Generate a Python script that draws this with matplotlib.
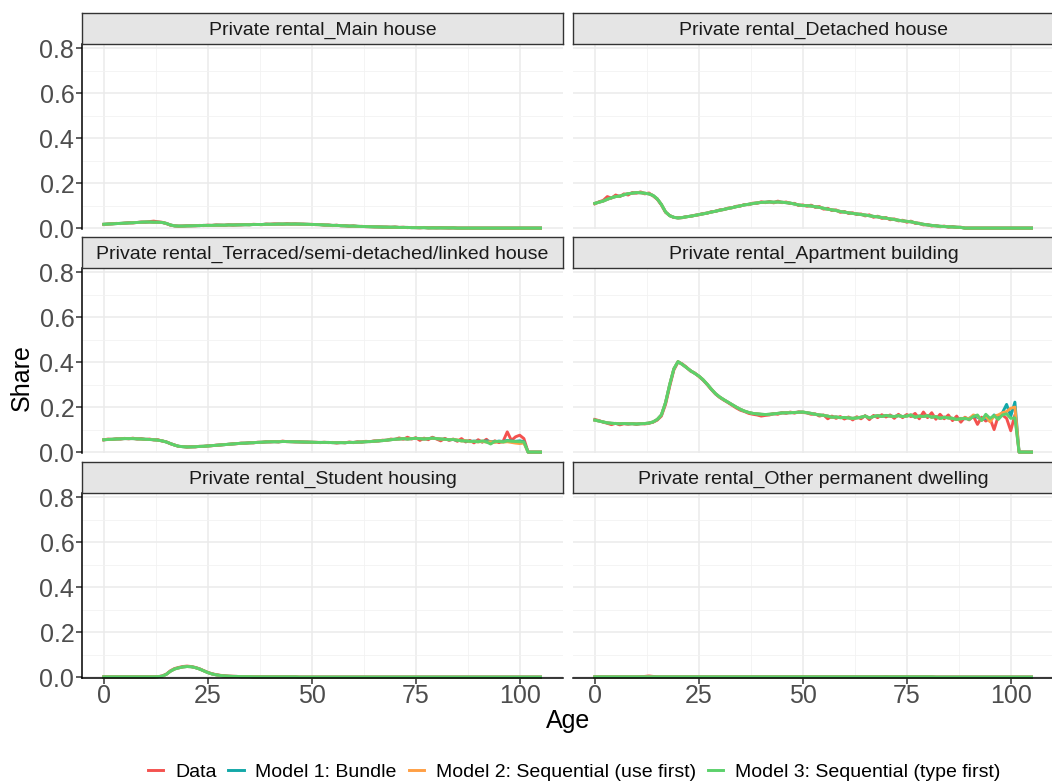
import matplotlib.pyplot as plt
from matplotlib.lines import Line2D

plt.rcParams['font.family'] = ['Liberation Sans', 'DejaVu Sans']

# Ages 0..105 (one point per year)
AGES = list(range(106))

SERIES = ['Data', 'Model 1: Bundle', 'Model 2: Sequential (use first)',
          'Model 3: Sequential (type first)']
COLORS = ['#f4524f', '#13a8a8', '#ff9f45', '#5cd16b']

# Private rental_Main house
MAIN_DATA = [
    0.016, 0.018, 0.019, 0.021, 0.020, 0.022, 0.024, 0.023, 0.025, 0.027,
    0.026, 0.029, 0.031, 0.028, 0.026, 0.020, 0.013, 0.010, 0.008, 0.009,
    0.010, 0.011, 0.010, 0.012, 0.011, 0.013, 0.012, 0.014, 0.013, 0.012,
    0.015, 0.013, 0.015, 0.014, 0.016, 0.015, 0.017, 0.016, 0.015, 0.018,
    0.017, 0.019, 0.018, 0.017, 0.020, 0.018, 0.019, 0.017, 0.018, 0.016,
    0.017, 0.015, 0.016, 0.013, 0.014, 0.011, 0.013, 0.010, 0.011, 0.008,
    0.010, 0.007, 0.008, 0.006, 0.007, 0.005, 0.006, 0.004, 0.005, 0.003,
    0.005, 0.003, 0.004, 0.002, 0.003, 0.002, 0.001, 0.003, 0.001, 0.002,
    0.001, 0.002, 0.001, 0.000, 0.001, 0.000, 0.000, 0.000, 0.000, 0.000,
    0.000, 0.000, 0.000, 0.000, 0.000, 0.000, 0.000, 0.000, 0.000, 0.000,
    0.000, 0.000, 0.000, 0.000, 0.000, 0.000]
MAIN_MODEL = [
    0.017, 0.018, 0.019, 0.020, 0.021, 0.022, 0.023, 0.024, 0.025, 0.026,
    0.027, 0.027, 0.026, 0.026, 0.025, 0.021, 0.014, 0.010, 0.009, 0.009,
    0.010, 0.010, 0.011, 0.011, 0.012, 0.012, 0.012, 0.013, 0.013, 0.013,
    0.014, 0.014, 0.014, 0.015, 0.015, 0.015, 0.016, 0.016, 0.016, 0.017,
    0.017, 0.017, 0.018, 0.018, 0.018, 0.018, 0.018, 0.018, 0.017, 0.017,
    0.016, 0.016, 0.015, 0.014, 0.013, 0.012, 0.012, 0.011, 0.010, 0.009,
    0.009, 0.008, 0.007, 0.007, 0.006, 0.006, 0.005, 0.005, 0.004, 0.004,
    0.004, 0.003, 0.003, 0.003, 0.002, 0.002, 0.002, 0.002, 0.001, 0.001,
    0.001, 0.001, 0.001, 0.001, 0.001, 0.000, 0.000, 0.000, 0.000, 0.000,
    0.000, 0.000, 0.000, 0.000, 0.000, 0.000, 0.000, 0.000, 0.000, 0.000,
    0.000, 0.000, 0.000, 0.000, 0.000, 0.000]

# Private rental_Detached house
DET_DATA = [
    0.108, 0.117, 0.123, 0.140, 0.133, 0.147, 0.140, 0.152, 0.147, 0.158,
    0.155, 0.161, 0.152, 0.156, 0.143, 0.128, 0.103, 0.070, 0.056, 0.047,
    0.046, 0.046, 0.051, 0.052, 0.057, 0.059, 0.065, 0.066, 0.073, 0.074,
    0.081, 0.082, 0.089, 0.090, 0.097, 0.098, 0.105, 0.104, 0.111, 0.110,
    0.117, 0.113, 0.118, 0.112, 0.120, 0.113, 0.116, 0.109, 0.110, 0.100,
    0.103, 0.097, 0.102, 0.092, 0.096, 0.084, 0.088, 0.078, 0.081, 0.070,
    0.074, 0.065, 0.068, 0.060, 0.063, 0.054, 0.059, 0.048, 0.053, 0.043,
    0.047, 0.037, 0.041, 0.032, 0.035, 0.026, 0.031, 0.021, 0.022, 0.014,
    0.016, 0.009, 0.012, 0.006, 0.009, 0.004, 0.007, 0.003, 0.004, 0.000,
    0.000, 0.000, 0.000, 0.000, 0.000, 0.000, 0.000, 0.000, 0.000, 0.000,
    0.000, 0.000, 0.000, 0.000, 0.000, 0.000]
DET_MODEL = [
    0.110, 0.115, 0.120, 0.128, 0.135, 0.140, 0.142, 0.148, 0.153, 0.155,
    0.158, 0.157, 0.155, 0.152, 0.145, 0.130, 0.105, 0.072, 0.055, 0.048,
    0.045, 0.047, 0.050, 0.053, 0.056, 0.060, 0.063, 0.067, 0.071, 0.075,
    0.079, 0.083, 0.087, 0.091, 0.095, 0.099, 0.103, 0.106, 0.109, 0.112,
    0.114, 0.115, 0.116, 0.115, 0.116, 0.115, 0.113, 0.111, 0.107, 0.103,
    0.100, 0.100, 0.098, 0.095, 0.092, 0.088, 0.084, 0.081, 0.078, 0.074,
    0.071, 0.068, 0.065, 0.063, 0.060, 0.058, 0.055, 0.052, 0.050, 0.047,
    0.044, 0.041, 0.038, 0.035, 0.032, 0.030, 0.028, 0.024, 0.020, 0.017,
    0.014, 0.012, 0.010, 0.008, 0.007, 0.006, 0.005, 0.004, 0.003, 0.000,
    0.000, 0.000, 0.000, 0.000, 0.000, 0.000, 0.000, 0.000, 0.000, 0.000,
    0.000, 0.000, 0.000, 0.000, 0.000, 0.000]

# Private rental_Terraced/semi-detached/linked house
TER_DATA = [
    0.054, 0.058, 0.056, 0.059, 0.058, 0.061, 0.059, 0.062, 0.058, 0.060,
    0.056, 0.058, 0.054, 0.055, 0.049, 0.046, 0.037, 0.032, 0.025, 0.025,
    0.022, 0.024, 0.023, 0.026, 0.025, 0.028, 0.028, 0.031, 0.031, 0.034,
    0.034, 0.037, 0.037, 0.040, 0.039, 0.042, 0.041, 0.044, 0.043, 0.046,
    0.045, 0.047, 0.045, 0.049, 0.046, 0.047, 0.045, 0.046, 0.044, 0.045,
    0.043, 0.044, 0.042, 0.044, 0.042, 0.043, 0.040, 0.043, 0.041, 0.045,
    0.042, 0.046, 0.044, 0.048, 0.046, 0.050, 0.049, 0.053, 0.052, 0.058,
    0.056, 0.063, 0.057, 0.066, 0.058, 0.064, 0.052, 0.062, 0.055, 0.066,
    0.058, 0.050, 0.061, 0.052, 0.058, 0.048, 0.060, 0.045, 0.052, 0.041,
    0.055, 0.044, 0.057, 0.038, 0.050, 0.042, 0.048, 0.090, 0.052, 0.068,
    0.075, 0.060, 0.000, 0.000, 0.000, 0.000]
TER_MODEL = [
    0.055, 0.056, 0.057, 0.058, 0.059, 0.060, 0.060, 0.060, 0.059, 0.058,
    0.057, 0.056, 0.055, 0.053, 0.050, 0.045, 0.038, 0.031, 0.026, 0.024,
    0.023, 0.023, 0.024, 0.025, 0.026, 0.027, 0.029, 0.030, 0.032, 0.033,
    0.035, 0.036, 0.038, 0.039, 0.040, 0.041, 0.042, 0.043, 0.044, 0.045,
    0.046, 0.046, 0.046, 0.047, 0.047, 0.046, 0.046, 0.045, 0.045, 0.044,
    0.044, 0.043, 0.043, 0.043, 0.043, 0.042, 0.042, 0.042, 0.042, 0.043,
    0.043, 0.044, 0.045, 0.046, 0.047, 0.048, 0.050, 0.051, 0.053, 0.055,
    0.057, 0.058, 0.060, 0.058, 0.060, 0.061, 0.060, 0.058, 0.060, 0.062,
    0.060, 0.058, 0.057, 0.055, 0.056, 0.053, 0.050, 0.049, 0.048, 0.047,
    0.046, 0.050, 0.045, 0.036, 0.048, 0.047, 0.045, 0.050, 0.048, 0.047,
    0.046, 0.045, 0.000, 0.000, 0.000, 0.000]
TER_M1 = TER_MODEL[:85] + [
    0.052, 0.051, 0.050, 0.047, 0.049, 0.048, 0.046, 0.050, 0.047, 0.045,
    0.049, 0.047, 0.052, 0.049, 0.048, 0.050, 0.046, 0.000, 0.000, 0.000, 0.000]
TER_M2 = TER_MODEL[:85] + [
    0.054, 0.049, 0.051, 0.046, 0.048, 0.045, 0.048, 0.044, 0.046, 0.043,
    0.047, 0.044, 0.046, 0.043, 0.040, 0.038, 0.040, 0.000, 0.000, 0.000, 0.000]

# Private rental_Apartment building
APT_DATA = [
    0.145, 0.140, 0.133, 0.128, 0.122, 0.128, 0.121, 0.126, 0.124, 0.127,
    0.123, 0.127, 0.125, 0.128, 0.133, 0.142, 0.160, 0.212, 0.292, 0.365,
    0.400, 0.392, 0.378, 0.360, 0.352, 0.336, 0.320, 0.300, 0.278, 0.258,
    0.243, 0.231, 0.220, 0.208, 0.196, 0.186, 0.180, 0.172, 0.168, 0.165,
    0.160, 0.163, 0.165, 0.171, 0.168, 0.176, 0.172, 0.178, 0.173, 0.179,
    0.176, 0.174, 0.168, 0.170, 0.160, 0.165, 0.148, 0.160, 0.150, 0.158,
    0.147, 0.156, 0.143, 0.157, 0.148, 0.162, 0.144, 0.163, 0.153, 0.166,
    0.156, 0.165, 0.150, 0.168, 0.153, 0.167, 0.158, 0.172, 0.148, 0.178,
    0.153, 0.175, 0.146, 0.168, 0.148, 0.165, 0.140, 0.160, 0.133, 0.155,
    0.143, 0.160, 0.123, 0.155, 0.138, 0.150, 0.100, 0.160, 0.165, 0.150,
    0.095, 0.165, 0.000, 0.000, 0.000, 0.000]
APT_MODEL = [
    0.142, 0.138, 0.134, 0.130, 0.128, 0.127, 0.126, 0.127, 0.126, 0.126,
    0.125, 0.126, 0.127, 0.129, 0.134, 0.145, 0.165, 0.220, 0.300, 0.370,
    0.402, 0.390, 0.376, 0.362, 0.350, 0.338, 0.322, 0.302, 0.280, 0.260,
    0.245, 0.233, 0.222, 0.211, 0.200, 0.190, 0.182, 0.176, 0.172, 0.170,
    0.168, 0.167, 0.168, 0.170, 0.172, 0.174, 0.175, 0.175, 0.176, 0.177,
    0.178, 0.175, 0.172, 0.168, 0.165, 0.163, 0.160, 0.155, 0.156, 0.153,
    0.154, 0.152, 0.150, 0.152, 0.155, 0.160, 0.152, 0.158, 0.162, 0.158,
    0.163, 0.160, 0.158, 0.162, 0.158, 0.160, 0.165, 0.155, 0.160, 0.158,
    0.162, 0.155, 0.158, 0.150, 0.155, 0.152, 0.150, 0.145, 0.148, 0.150,
    0.145, 0.158, 0.165, 0.140, 0.168, 0.150, 0.162, 0.145, 0.165, 0.170,
    0.150, 0.152, 0.000, 0.000, 0.000, 0.000]
APT_M1 = APT_MODEL[:88] + [
    0.150, 0.148, 0.150, 0.160, 0.155, 0.145, 0.150, 0.140, 0.165, 0.150,
    0.175, 0.212, 0.160, 0.222, 0.000, 0.000, 0.000, 0.000]
APT_M2 = APT_MODEL[:88] + [
    0.148, 0.152, 0.148, 0.165, 0.160, 0.142, 0.160, 0.135, 0.160, 0.165,
    0.175, 0.180, 0.195, 0.200, 0.000, 0.000, 0.000, 0.000]

# Private rental_Student housing
STU_DATA = [
    0.001, 0.001, 0.001, 0.001, 0.001, 0.001, 0.001, 0.001, 0.001, 0.001,
    0.001, 0.001, 0.001, 0.002, 0.005, 0.013, 0.028, 0.038, 0.043, 0.047,
    0.049, 0.047, 0.043, 0.037, 0.029, 0.021, 0.015, 0.011, 0.008, 0.006,
    0.004, 0.004, 0.003, 0.002, 0.002, 0.002, 0.001, 0.001, 0.001, 0.001,
    0.001, 0.001, 0.001, 0.001, 0.001, 0.001, 0.001, 0.000, 0.000, 0.000,
    0.000, 0.000, 0.000, 0.000, 0.000, 0.000, 0.000, 0.000, 0.000, 0.000,
    0.000, 0.000, 0.000, 0.000, 0.000, 0.000, 0.000, 0.000, 0.000, 0.000,
    0.000, 0.000, 0.000, 0.000, 0.000, 0.000, 0.000, 0.000, 0.000, 0.000,
    0.000, 0.000, 0.000, 0.000, 0.000, 0.000, 0.000, 0.000, 0.000, 0.000,
    0.000, 0.000, 0.000, 0.000, 0.000, 0.000, 0.000, 0.000, 0.000, 0.000,
    0.000, 0.000, 0.000, 0.000, 0.000, 0.000]
STU_MODEL = [
    0.001, 0.001, 0.001, 0.001, 0.001, 0.001, 0.001, 0.001, 0.001, 0.001,
    0.001, 0.001, 0.001, 0.002, 0.004, 0.012, 0.026, 0.036, 0.041, 0.045,
    0.047, 0.046, 0.042, 0.036, 0.028, 0.020, 0.014, 0.010, 0.007, 0.005,
    0.004, 0.003, 0.003, 0.002, 0.002, 0.002, 0.001, 0.001, 0.001, 0.001,
    0.001, 0.001, 0.001, 0.001, 0.001, 0.001, 0.001, 0.000, 0.000, 0.000,
    0.000, 0.000, 0.000, 0.000, 0.000, 0.000, 0.000, 0.000, 0.000, 0.000,
    0.000, 0.000, 0.000, 0.000, 0.000, 0.000, 0.000, 0.000, 0.000, 0.000,
    0.000, 0.000, 0.000, 0.000, 0.000, 0.000, 0.000, 0.000, 0.000, 0.000,
    0.000, 0.000, 0.000, 0.000, 0.000, 0.000, 0.000, 0.000, 0.000, 0.000,
    0.000, 0.000, 0.000, 0.000, 0.000, 0.000, 0.000, 0.000, 0.000, 0.000,
    0.000, 0.000, 0.000, 0.000, 0.000, 0.000]

# Private rental_Other permanent dwelling
OTH_DATA = [
    0.001, 0.001, 0.001, 0.001, 0.001, 0.001, 0.001, 0.001, 0.001, 0.001,
    0.001, 0.002, 0.003, 0.005, 0.003, 0.001, 0.001, 0.001, 0.001, 0.001,
    0.001, 0.001, 0.001, 0.001, 0.001, 0.001, 0.001, 0.001, 0.001, 0.001,
    0.001, 0.001, 0.001, 0.001, 0.001, 0.001, 0.001, 0.001, 0.001, 0.001,
    0.001, 0.001, 0.001, 0.001, 0.001, 0.001, 0.001, 0.001, 0.001, 0.001,
    0.001, 0.001, 0.001, 0.001, 0.001, 0.001, 0.001, 0.001, 0.001, 0.001,
    0.001, 0.001, 0.001, 0.001, 0.001, 0.001, 0.001, 0.001, 0.001, 0.001,
    0.002, 0.001, 0.001, 0.001, 0.001, 0.001, 0.001, 0.001, 0.001, 0.001,
    0.001, 0.001, 0.000, 0.000, 0.000, 0.000, 0.000, 0.000, 0.000, 0.000,
    0.000, 0.000, 0.000, 0.000, 0.000, 0.000, 0.000, 0.000, 0.000, 0.000,
    0.000, 0.000, 0.000, 0.000, 0.000, 0.000]
OTH_MODEL = [
    0.001, 0.001, 0.001, 0.001, 0.001, 0.001, 0.001, 0.001, 0.001, 0.001,
    0.001, 0.001, 0.001, 0.001, 0.001, 0.001, 0.001, 0.001, 0.001, 0.001,
    0.001, 0.001, 0.001, 0.001, 0.001, 0.001, 0.001, 0.001, 0.001, 0.001,
    0.001, 0.001, 0.001, 0.001, 0.001, 0.001, 0.001, 0.001, 0.001, 0.001,
    0.001, 0.001, 0.001, 0.001, 0.001, 0.001, 0.001, 0.001, 0.001, 0.001,
    0.001, 0.001, 0.001, 0.001, 0.001, 0.001, 0.001, 0.001, 0.001, 0.001,
    0.001, 0.001, 0.001, 0.001, 0.001, 0.001, 0.001, 0.001, 0.001, 0.001,
    0.001, 0.001, 0.001, 0.001, 0.001, 0.001, 0.001, 0.001, 0.001, 0.001,
    0.001, 0.001, 0.000, 0.000, 0.000, 0.000, 0.000, 0.000, 0.000, 0.000,
    0.000, 0.000, 0.000, 0.000, 0.000, 0.000, 0.000, 0.000, 0.000, 0.000,
    0.000, 0.000, 0.000, 0.000, 0.000, 0.000]

PANELS = [
    ('Private rental_Main house', MAIN_DATA, MAIN_MODEL, MAIN_MODEL, MAIN_MODEL),
    ('Private rental_Detached house', DET_DATA, DET_MODEL, DET_MODEL, DET_MODEL),
    ('Private rental_Terraced/semi-detached/linked house', TER_DATA, TER_M1, TER_M2, TER_MODEL),
    ('Private rental_Apartment building', APT_DATA, APT_M1, APT_M2, APT_MODEL),
    ('Private rental_Student housing', STU_DATA, STU_MODEL, STU_MODEL, STU_MODEL),
    ('Private rental_Other permanent dwelling', OTH_DATA, OTH_MODEL, OTH_MODEL, OTH_MODEL),
]

Y_TICKS = [0.0, 0.2, 0.4, 0.6, 0.8]
X_TICKS = [0, 25, 50, 75, 100]

# layout in pixels
W, H = 1052, 784
COL_X = [82, 573]
ROW_Y = [13, 237, 462]   # top of the strip
PANEL_W = 481
STRIP_H = 31
PANEL_H = 185


def box(left, top, width, height):
    return [left / W, 1 - (top + height) / H, width / W, height / H]


fig = plt.figure(figsize=(W / 100, H / 100), dpi=100)

for i, (titulo, *valores) in enumerate(PANELS):
    row, col = divmod(i, 2)
    x0, y0 = COL_X[col], ROW_Y[row]

    ax = fig.add_axes(box(x0, y0 + STRIP_H, PANEL_W, PANEL_H))
    for serie, cor in zip(valores, COLORS):
        ax.plot(AGES, serie, color=cor, lw=2.1, solid_joinstyle='round',
                clip_on=False)

    ax.set_xlim(-5.25, 110.4)
    ax.set_ylim(-0.004, 0.818)
    ax.set_xticks(X_TICKS)
    ax.set_xticks([12.5, 37.5, 62.5, 87.5], minor=True)
    ax.set_yticks(Y_TICKS)
    ax.set_yticks([0.1, 0.3, 0.5, 0.7], minor=True)
    ax.grid(which='major', color='#ebebeb', lw=1.1)
    ax.grid(which='minor', color='#f2f2f2', lw=0.6)
    ax.set_axisbelow(True)
    ax.tick_params(which='minor', length=0)
    ax.tick_params(which='major', labelsize=18, labelcolor='#4d4d4d',
                   color='#333333', length=4, width=1.1, pad=1.5)
    ax.tick_params(axis='x', pad=0)

    for lado in ['top', 'right', 'left', 'bottom']:
        ax.spines[lado].set_visible(False)
    if col == 0:
        ax.spines['left'].set_visible(True)
        ax.spines['left'].set_linewidth(1.1)
        ax.set_yticklabels(['0.0', '0.2', '0.4', '0.6', '0.8'])
    else:
        ax.tick_params(axis='y', length=0, labelleft=False)
    if row == 2:
        ax.spines['bottom'].set_visible(True)
        ax.spines['bottom'].set_linewidth(1.1)
        ax.set_xticklabels([str(t) for t in X_TICKS])
    else:
        ax.tick_params(axis='x', length=0, labelbottom=False)

    # faixa do titulo do painel
    st = fig.add_axes(box(x0, y0, PANEL_W, STRIP_H))
    st.set_facecolor('#e5e5e5')
    st.set_xticks([])
    st.set_yticks([])
    for lado in st.spines.values():
        lado.set_color('#333333')
        lado.set_linewidth(1.0)
    st.text(0.5, 0.44, titulo, ha='center', va='center', fontsize=14,
            color='#1a1a1a', transform=st.transAxes)

fig.text(22 / W, 1 - 378 / H, 'Share', rotation=90, ha='center', va='center',
         fontsize=18)
fig.text(568 / W, 1 - 721 / H, 'Age', ha='center', va='center', fontsize=18)

handles = [Line2D([], [], color=c, lw=2.1) for c in COLORS]
fig.legend(handles, SERIES, loc='center', bbox_to_anchor=(574 / W, 1 - 772 / H),
           ncol=4, frameon=False, fontsize=14, handlelength=0.8,
           handletextpad=0.6, columnspacing=0.6)

fig.savefig('out.png', dpi=100)
